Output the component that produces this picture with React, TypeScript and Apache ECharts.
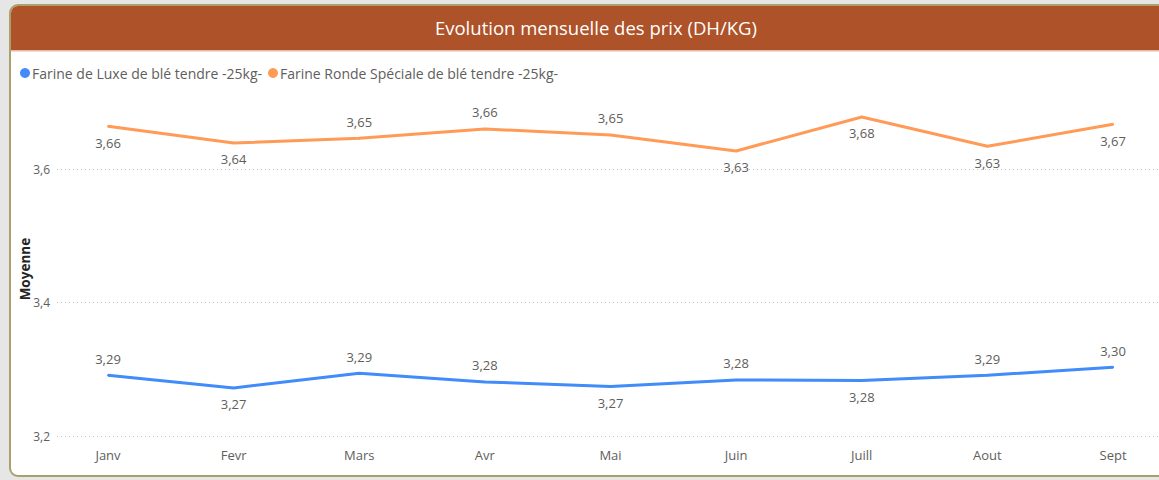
import React, { useEffect, useRef } from "react";
import * as echarts from "echarts";

const months = ["Janv", "Fevr", "Mars", "Avr", "Mai", "Juin", "Juill", "Aout", "Sept"];
const luxeName = "Farine de Luxe de blé tendre -25kg-";
const rondeName = "Farine Ronde Spéciale de blé tendre -25kg-";
const luxeValues = [3.291, 3.272, 3.294, 3.281, 3.274, 3.284, 3.283, 3.291, 3.303];
const rondeValues = [3.664, 3.639, 3.646, 3.66, 3.651, 3.627, 3.678, 3.634, 3.667];
const luxeLabelPos = ["top", "bottom", "top", "top", "bottom", "top", "bottom", "top", "top"];
const rondeLabelPos = ["bottom", "bottom", "top", "top", "top", "bottom", "bottom", "bottom", "bottom"];
const yMin = 3.2;
const yMax = 3.7;
const yStep = 0.2;

const FONT = "'Open Sans', 'Noto Sans', sans-serif";
const BLUE = "#418BFA";
const ORANGE = "#FF9B57";
const GRAY = "#605E5C";

export default function App() {
  const ref = useRef<HTMLDivElement>(null);
  useEffect(() => {
    document.body.style.margin = "0";
    const chart = echarts.init(ref.current!, null, { renderer: "svg" });
    const fmt = (v: number) => v.toFixed(2).replace(".", ",");
    const mk = (vals: number[], pos: string[]) =>
      vals.map((v, i) => ({ value: v, label: { position: pos[i] } }));
    const seriesCommon = (color: string) => ({
      type: "line",
      xAxisIndex: 0,
      yAxisIndex: 0,
      color,
      symbol: "circle",
      symbolSize: 2,
      showSymbol: true,
      showAllSymbol: true,
      itemStyle: { color },
      lineStyle: { width: 3, color },
      label: {
        show: true,
        color: GRAY,
        fontSize: 13,
        distance: 9,
        fontFamily: FONT,
        formatter: (p: any) => fmt(p.value),
      },
    });
    chart.setOption({
      animation: false,
      backgroundColor: "#E6E6E6",
      textStyle: { fontFamily: FONT },
      graphic: [
        {
          type: "rect",
          shape: { x: 10, y: 5, width: 1160, height: 471, r: 8 },
          style: { fill: "#FFFFFF", stroke: "#A9A06C", lineWidth: 2 },
          z: -10,
        },
        {
          type: "rect",
          shape: { x: 11, y: 6, width: 1160, height: 44, r: [7, 0, 0, 0] },
          style: { fill: "#AD5229" },
          z: -9,
        },
        {
          type: "rect",
          shape: { x: 11, y: 50, width: 1160, height: 1.5 },
          style: { fill: "#E9B9A4" },
          z: -9,
        },
      ],
      title: {
        text: "Evolution mensuelle des prix (DH/KG)",
        left: 591,
        textAlign: "center",
        top: 13,
        textStyle: { color: "#FFFFFF", fontSize: 18.5, fontWeight: "normal", fontFamily: FONT },
      },
      legend: {
        left: 15,
        top: 61,
        icon: "circle",
        itemWidth: 10,
        itemHeight: 10,
        itemGap: 6,
        textStyle: { color: GRAY, fontSize: 14, fontFamily: FONT, padding: [0, 0, 0, -3] },
        data: [luxeName, rondeName],
      },
      grid: [
        { left: 108, right: 46, top: 102.25, bottom: 44 },
        { left: 57, right: 0, top: 102.25, bottom: 44 },
      ],
      xAxis: [
        {
          type: "category",
          gridIndex: 0,
          data: months,
          boundaryGap: false,
          axisLine: { show: false },
          axisTick: { show: false },
          axisLabel: { color: GRAY, fontSize: 13, margin: 12, fontFamily: FONT },
        },
        {
          type: "value",
          gridIndex: 1,
          show: false,
        },
      ],
      yAxis: [
        {
          type: "value",
          gridIndex: 0,
          min: yMin,
          max: yMax,
          interval: yStep,
          axisLabel: { show: false },
          splitLine: { show: false },
          axisLine: { show: false },
          axisTick: { show: false },
        },
        {
          type: "value",
          gridIndex: 1,
          min: yMin,
          max: yMax,
          interval: yStep,
          name: "Moyenne",
          nameLocation: "middle",
          nameGap: 25,
          nameMoveOverlap: false,
          nameTextStyle: { color: "#252423", fontSize: 13.5, fontWeight: "bold", fontFamily: FONT },
          axisLine: { show: false },
          axisTick: { show: false },
          axisLabel: {
            color: GRAY,
            fontSize: 12,
            margin: 7,
            showMaxLabel: false,
            formatter: (v: number) => String(Math.round(v * 10) / 10).replace(".", ","),
          },
          splitLine: {
            show: true,
            showMaxLine: false,
            lineStyle: { color: "#C8C6C4", type: [1, 3], width: 1 },
          },
        },
      ],
      series: [
        { name: luxeName, data: mk(luxeValues, luxeLabelPos), ...seriesCommon(BLUE) },
        { name: rondeName, data: mk(rondeValues, rondeLabelPos), ...seriesCommon(ORANGE) },
      ],
    });
    return () => chart.dispose();
  }, []);
  return <div ref={ref} style={{ width: 1159, height: 480 }} />;
}
